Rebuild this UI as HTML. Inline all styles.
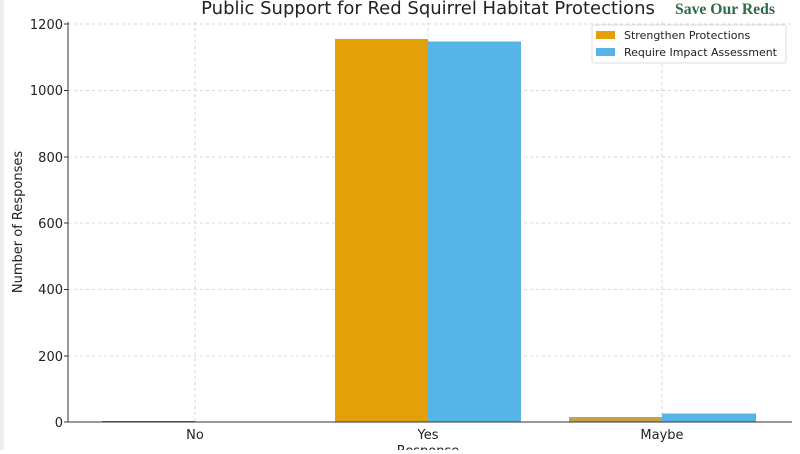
<!DOCTYPE html>
<html><head><meta charset="utf-8"><style>
body{margin:0;background:#fff;width:800px;height:450px;overflow:hidden;font-family:"DejaVu Sans","Liberation Sans",sans-serif}
</style></head><body>
<svg width="800" height="450" xmlns="http://www.w3.org/2000/svg" font-family="DejaVu Sans, Liberation Sans, sans-serif">
<rect x="0" y="0" width="4" height="450" fill="#eeeeee"/>
<g stroke="#cccccc" stroke-dasharray="3,3" stroke-width="0.8">
<line x1="68" x2="792" y1="24" y2="24"/><line x1="68" x2="792" y1="90.5" y2="90.5"/><line x1="68" x2="792" y1="157" y2="157"/><line x1="68" x2="792" y1="223" y2="223"/><line x1="68" x2="792" y1="289.5" y2="289.5"/><line x1="68" x2="792" y1="356" y2="356"/>
<line x1="195" x2="195" y1="22" y2="422"/><line x1="428" x2="428" y1="22" y2="422"/><line x1="662" x2="662" y1="22" y2="422"/>
</g>
<rect x="102" y="421" width="93" height="1.5" fill="#a0522d"/>
<rect x="335" y="39" width="93" height="383" fill="#e3a008"/>
<rect x="428" y="41.5" width="93" height="380.5" fill="#56b4e9"/>
<rect x="569" y="417" width="93" height="5" fill="#c9a04a"/>
<rect x="662" y="413.5" width="94" height="8.5" fill="#56b4e9"/>
<line x1="68" x2="68" y1="22" y2="422" stroke="#333"/>
<line x1="68" x2="792" y1="422" y2="422" stroke="#333"/>
<g font-size="13" fill="#222" text-anchor="end">
<text x="63" y="29">1200</text><text x="63" y="95">1000</text><text x="63" y="162">800</text><text x="63" y="228">600</text><text x="63" y="294">400</text><text x="63" y="361">200</text><text x="63" y="427">0</text>
</g>
<g stroke="#333"><line x1="64" x2="68" y1="24" y2="24"/><line x1="64" x2="68" y1="90.5" y2="90.5"/><line x1="64" x2="68" y1="157" y2="157"/><line x1="64" x2="68" y1="223" y2="223"/><line x1="64" x2="68" y1="289.5" y2="289.5"/><line x1="64" x2="68" y1="356" y2="356"/><line x1="64" x2="68" y1="422" y2="422"/></g>
<g font-size="13" fill="#222" text-anchor="middle">
<text x="195" y="439">No</text><text x="428" y="439">Yes</text><text x="662" y="439">Maybe</text>
<text x="428" y="455">Response</text>
</g>
<text transform="translate(22,222) rotate(-90)" font-size="13" fill="#222" text-anchor="middle">Number of Responses</text>
<text x="428" y="14" font-size="18" fill="#222" text-anchor="middle">Public Support for Red Squirrel Habitat Protections</text>
<text x="725" y="14" font-size="15.5" font-weight="bold" fill="#2e6b47" text-anchor="middle" font-family="Liberation Serif, serif" textLength="100" lengthAdjust="spacingAndGlyphs">Save Our Reds</text>
<rect x="592" y="25" width="194" height="38" fill="#fff" stroke="#ddd" rx="2"/>
<rect x="596" y="31" width="19" height="8" fill="#e3a008"/>
<rect x="596" y="48" width="19" height="8" fill="#56b4e9"/>
<g font-size="11" fill="#222"><text x="624" y="39">Strengthen Protections</text><text x="624" y="56">Require Impact Assessment</text></g>
</svg>
</body></html>
